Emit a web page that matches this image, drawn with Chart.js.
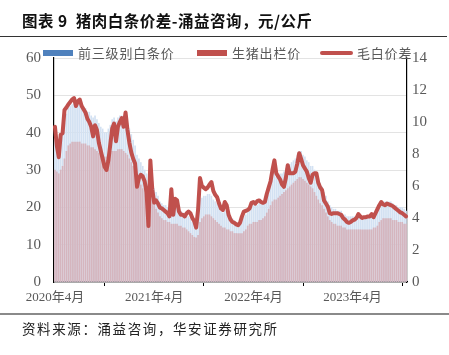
<!DOCTYPE html>
<html>
<head>
<meta charset="utf-8">
<script src="https://cdn.jsdelivr.net/npm/chart.js@4.4.1/dist/chart.umd.min.js"></script>
<style>
  html,body{margin:0;padding:0;background:#fff;}
  #wrap{position:relative;width:449px;height:355px;overflow:hidden;font-family:"Noto Sans CJK SC",sans-serif;}
  #c{position:absolute;left:0;top:0;}
  .title{position:absolute;left:22px;top:9px;font-size:15.5px;font-weight:bold;color:#111;white-space:nowrap;letter-spacing:0.5px;}
  .tline{position:absolute;left:0;top:36px;width:447px;height:0;border-top:1.5px solid #333;}
  .fline{position:absolute;left:0;top:313px;width:449px;height:0;border-top:2px solid #8a8a8a;}
  .foot{position:absolute;left:22px;top:318px;font-size:13.5px;color:#222;white-space:nowrap;letter-spacing:1.6px;}
  .lg{position:absolute;top:45px;font-size:13px;color:#595959;white-space:nowrap;letter-spacing:0.8px;line-height:16px;}
  .box{position:absolute;height:6px;width:30px;}
  .ln{position:absolute;height:4px;width:33px;border-radius:2px;background:#C0504D;}
</style>
</head>
<body>
<div id="wrap">
  <canvas id="c" width="449" height="355"></canvas>
  <div class="title">图表 9&nbsp; 猪肉白条价差-涌益咨询，元/公斤</div>
  <div class="tline"></div>
  <div class="box" style="left:43px;top:50px;background:#4F81BD;"></div>
  <div class="lg" style="left:78px;">前三级别白条价</div>
  <div class="box" style="left:197px;top:50px;background:#C0504D;"></div>
  <div class="lg" style="left:232px;">生猪出栏价</div>
  <div class="ln" style="left:320px;top:51px;"></div>
  <div class="lg" style="left:357px;">毛白价差</div>
  <div class="fline"></div>
  <div class="foot">资料来源：涌益咨询，华安证券研究所</div>
</div>
<script>
// ---- data (weekly, from 2020-04-05) ----
const startDate = "2020-04-05";
const weekCount = 185;
const xTickDates = ["2020-04-05","2021-04-04","2022-04-03","2023-04-02"];
const xTickLabels = ["2020年4月","2021年4月","2022年4月","2023年4月"];
const leftTicks = [0,10,20,30,40,50,60];
const rightTicks = [0,2,4,6,8,10,12,14];

// 前三级别白条价 (元/公斤)
const whiteCarcass = [
39,37,36,38,39.5,42.5,45,46.5,47,47.5,48,47.5,47.5,47.5,47,46.5,46.5,45.5,45.5,44.5,
44,44.5,43.5,42.5,41.5,41,40,40,41,42,43.5,44,43,44,44.5,44.5,43.5,44,42.5,41,
39.5,38,36.5,34,33,32,31,30,29,26.5,30,27,25,24,23,21.5,21,20.5,20.5,20,
19.5,20.5,19.5,20,20,19,19,18.5,18,18,17.5,17,16,15.5,15,16.5,22,22.5,23,23,
23.5,23.5,23,22,21.5,21,20,19,18.5,19,18.5,18,17,17,16.5,16,16,16.5,16.5,17.5,
18,19,19.5,20,20.5,20.5,20.5,21,21,21.5,22,23.5,25,26,28,29,28,28.5,29,29,
29.5,30.5,31.5,31.5,32,32.5,33,34,35,35,34,33.5,32.5,32,31,31,30,29,27.5,26.5,
25.5,24,23,21.5,20.5,20,19.5,19.5,19,19,19,18,18,17.5,17.5,17.5,17.5,17.5,17.5,18,
17.5,17.5,17.5,17.5,17.5,17.5,18,18,18.5,19,20.5,21,21.5,21.5,21.5,21.5,21.5,21,20.5,20.5,
20,20,20,19.5,19
];
// 生猪出栏价 (元/公斤)
const hogPrice = [
30,29.5,29,30,31,33,35,36.5,37,37.5,37.5,37.5,37.5,37.5,37,37,37,36.5,36.5,36,
36,35.5,35,34.5,34,34,33.5,33.5,34,34.5,35,35,35,35.5,35.5,35.5,35,34.5,34,33,
32,31,30,28.5,27,26,25,24.5,24,23.5,23,22,20.5,19.5,18.5,17.5,17,16.5,16.5,16,
16,15.5,15.5,15.5,15.5,15,15,14.5,14.5,14,13.5,13,12.5,12,11.8,12.5,16,17,17.5,18,
18,18,17.5,17,16.5,16,15.5,15,14.5,14.5,14,14,13.5,13.5,13,13,13,13,13,13.5,
14,15,15.5,15.5,16,16,16,16.5,16.5,17,17.5,18.5,19.5,20.5,21.5,22,22,22.5,23,23.5,
24,24.5,25,25.5,26,26.5,27,27.5,28,28,27.5,27,26.5,26,25.5,25,24,23,22,21,
20.5,19.5,18.5,17.5,16.5,16,15.5,15.5,15,15,15,14.5,14.5,14,14,14,14,14,14,14,
14,14,14,14,14,14,14,14.5,14.5,15,16,16.5,17,17,17,17,17,16.5,16.5,16.5,
16,16,16,15.5,15.5
];
// 毛白价差 (元/公斤, 右轴)
const spread = [
9.7,8.5,7.8,9.2,9.3,10.75,10.9,11.1,11.25,11.4,11.5,11.0,11.3,11.4,11.0,10.8,10.6,10.2,10.0,9.7,
9.1,9.8,9.5,8.7,8.2,7.7,7.2,7.0,7.6,8.6,9.6,9.9,8.8,9.7,10.0,10.25,9.7,10.6,9.5,8.7,
8.1,7.7,7.4,5.95,6.5,6.7,6.6,6.3,5.6,3.5,7.6,5.8,4.95,5.1,4.9,4.65,4.6,4.5,4.4,4.3,
4.1,5.8,4.2,5.2,5.1,4.4,4.2,4.2,4.1,4.3,4.4,4.3,4.0,3.8,3.4,4.5,6.5,6.0,5.9,5.8,
5.9,6.1,6.25,5.7,5.45,5.3,4.9,4.6,4.5,5.0,4.8,4.2,3.9,3.75,3.7,3.6,3.55,3.7,4.1,4.4,
4.45,4.5,4.6,4.95,5.0,4.9,5.05,5.1,5.0,4.95,5.0,5.5,5.9,6.3,7.0,7.6,6.8,6.6,6.4,6.1,
5.95,6.5,7.3,6.8,6.8,6.8,6.9,7.4,8.05,7.7,7.3,7.1,6.9,6.5,6.2,6.7,6.8,6.8,6.2,5.9,
5.75,5.1,4.9,4.7,4.3,4.25,4.3,4.3,4.3,4.25,4.2,4.0,3.9,3.75,3.7,3.75,3.85,3.9,4.0,4.25,
4.1,4.0,4.05,4.05,4.1,4.1,4.25,4.05,4.3,4.55,4.8,5.0,4.85,4.8,4.9,4.85,4.8,4.75,4.65,4.55,
4.45,4.35,4.3,4.2,4.1
];

// weekly category labels
const labels = [];
{
  const d0 = new Date(startDate + "T00:00:00Z");
  for (let i = 0; i < weekCount; i++) {
    const d = new Date(d0.getTime() + i * 7 * 86400000);
    labels.push(d.toISOString().slice(0, 10));
  }
}

const serif = "'Liberation Serif','Times New Roman','Noto Sans CJK SC',serif";

new Chart(document.getElementById('c'), {
  type: 'bar',
  data: {
    labels: labels,
    datasets: [
      {
        type: 'line', label: '毛白价差', data: spread, yAxisID: 'y1',
        borderColor: '#C0504D', borderWidth: 4, pointRadius: 0, tension: 0,
        borderJoinStyle: 'round', borderCapStyle: 'round', order: 0
      },
      {
        label: '生猪出栏价', data: hogPrice, yAxisID: 'y',
        backgroundColor: '#d5b5be', barThickness: 1, grouped: false, order: 1
      },
      {
        label: '前三级别白条价', data: whiteCarcass, yAxisID: 'y',
        backgroundColor: '#d3e1f2', barThickness: 1, grouped: false, order: 2
      }
    ]
  },
  options: {
    responsive: false,
    animation: false,
    layout: { padding: { top: 58, left: 0, right: 0, bottom: 0 } },
    plugins: { legend: { display: false }, tooltip: { enabled: false } },
    scales: {
      x: {
        type: 'category',
        offset: true,
        grid: { display: true, drawOnChartArea: false, drawTicks: true, tickLength: 4, color: '#000', offset: true },
        border: { display: true, color: '#000', width: 1.2 },
        ticks: {
          autoSkip: false, maxRotation: 0, minRotation: 0, padding: 4,
          color: '#595959', font: { family: serif, size: 13 },
          callback: function (v, i) {
            const k = xTickDates.indexOf(labels[i]);
            return k >= 0 ? xTickLabels[k] : null;
          }
        },
        afterFit: function (s) { s.height = 73; }
      },
      y: {
        position: 'left', min: 0, max: 60,
        afterBuildTicks: function (s) { s.ticks = leftTicks.map(v => ({ value: v })); },
        grid: { color: '#e3e3e3', lineWidth: 1, drawTicks: false },
        border: { display: true, color: '#000', width: 1.2 },
        ticks: { padding: 13, color: '#595959', font: { family: serif, size: 15 } },
        afterFit: function (s) { s.width = 54; }
      },
      y1: {
        position: 'right', min: 0, max: 14,
        afterBuildTicks: function (s) { s.ticks = rightTicks.map(v => ({ value: v })); },
        grid: { drawOnChartArea: false, drawTicks: false },
        border: { display: true, color: '#000', width: 1.2 },
        ticks: { padding: 5, color: '#595959', font: { family: serif, size: 15 } },
        afterFit: function (s) { s.width = 42; }
      }
    }
  }
});
</script>
</body>
</html>
